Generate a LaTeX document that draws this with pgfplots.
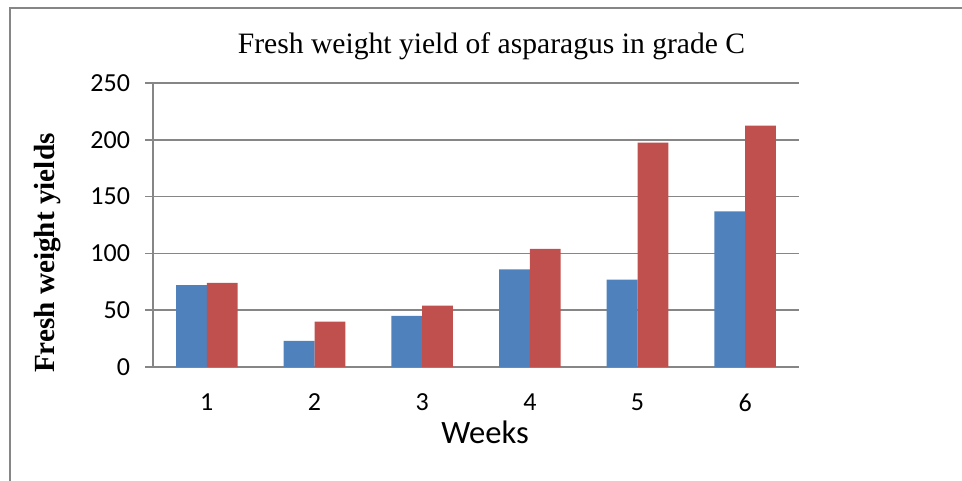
\documentclass[border=0pt]{standalone}
\usepackage{pgfplots}
\pgfplotsset{compat=1.18}
\usepackage{fontspec}
\setmainfont{Liberation Serif}
\newfontfamily\calibri{Carlito}
\definecolor{sblue}{HTML}{4F81BD}
\definecolor{sred}{HTML}{C0504D}
\definecolor{gridgray}{HTML}{868686}
\begin{document}
\begin{tikzpicture}
\useasboundingbox (0,0) rectangle (481pt,240.5pt);
\draw[gridgray, line width=0.9pt] (5pt,0) -- (5pt,236.5pt) -- (481pt,236.5pt);
\begin{axis}[
  at={(76.5pt,57pt)}, anchor=south west,
  scale only axis, width=323pt, height=142pt,
  xmin=0.5, xmax=6.5, ymin=0, ymax=250,
  ytick={0,50,...,250},
  xtick={1,...,6},
  major x tick style={draw=none},
  extra x ticks={0.5,1.5,...,6.5},
  extra x tick labels={},
  extra x tick style={major tick length=4pt, tick style={gridgray, line width=0.75pt}},
  tick align=outside,
  major tick length=4pt,
  y tick style={gridgray, line width=0.75pt},
  axis x line*=bottom, axis y line*=left,
  axis line style={gridgray, line width=0.75pt, -},
  ymajorgrids, grid style={gridgray, line width=0.75pt},
  ticklabel style={font=\calibri\fontsize{13}{15}\selectfont},
  /pgf/number format/assume math mode=true,
  xticklabel style={yshift=-6pt},
  yticklabel style={xshift=-4pt},
  ybar=0pt, bar width=15.4pt,
  title={Fresh weight yield of asparagus in grade C},
  title style={at={(axis description cs:0.524,1.088)}, anchor=center, font=\fontsize{14.8}{17}\selectfont},
  xlabel={Weeks},
  xlabel style={at={(axis description cs:0.514,-0.229)}, anchor=center, font=\calibri\fontsize{16.3}{18}\selectfont},
  ylabel={Fresh weight yields},
  ylabel style={at={(axis description cs:-0.163,0.401)}, anchor=center, rotate=0, font=\bfseries\fontsize{14.6}{17}\selectfont},
]
\addplot[fill=sblue, draw=none] coordinates {(1,72) (2,23) (3,45) (4,86) (5,77) (6,137)};
\addplot[fill=sred, draw=none] coordinates {(1,74) (2,40) (3,54) (4,104) (5,197.5) (6,212.5)};
\end{axis}
\end{tikzpicture}
\end{document}
